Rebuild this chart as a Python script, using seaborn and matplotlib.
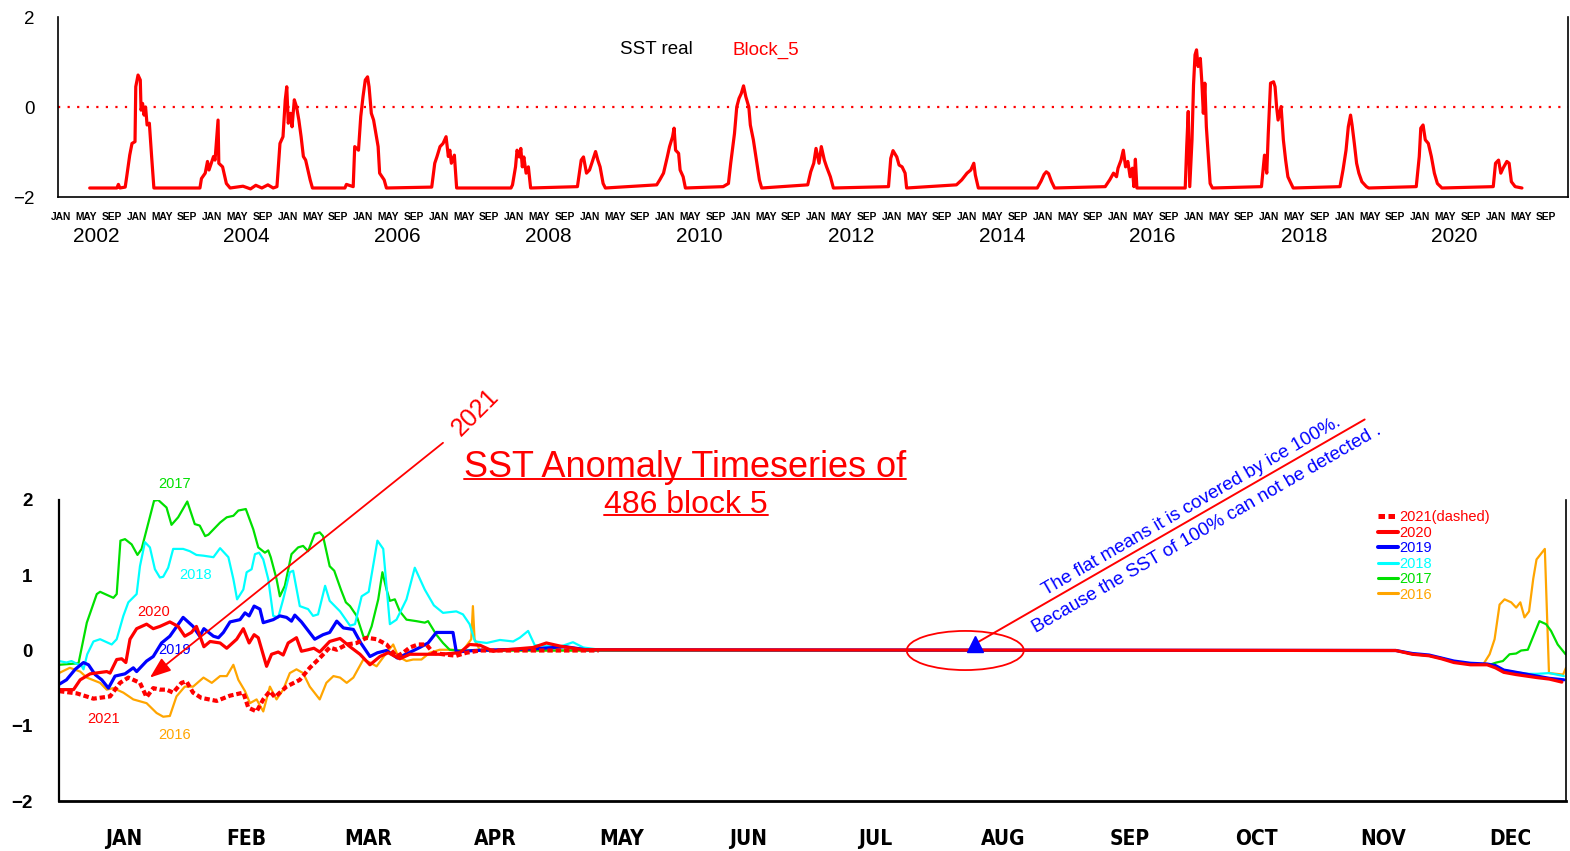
import numpy as np
import matplotlib
matplotlib.use("Agg")
import matplotlib.pyplot as plt
import seaborn as sns
from matplotlib import font_manager
from matplotlib.patches import Ellipse
from matplotlib.lines import Line2D
from matplotlib.transforms import blended_transform_factory, IdentityTransform

# ---------------------------------------------------------------- data
# Block_5 real SST, 2002-2021 (decimal year, degC)
sst_points = [
    (2002.42, -1.80), (2002.78, -1.80), (2002.80, -1.72), (2002.82, -1.80), (2002.89, -1.78),
    (2002.91, -1.55), (2002.95, -1.07), (2002.98, -0.81), (2003.02, -0.77), (2003.03, 0.45),
    (2003.06, 0.71), (2003.09, 0.60), (2003.10, -0.07), (2003.12, 0.08), (2003.14, -0.18),
    (2003.16, 0.00), (2003.18, -0.40), (2003.21, -0.36), (2003.24, -1.10), (2003.27, -1.80),
    (2003.88, -1.80), (2003.90, -1.59), (2003.95, -1.47), (2003.98, -1.21), (2004.00, -1.40),
    (2004.06, -1.10), (2004.08, -1.18), (2004.12, -0.29), (2004.13, -1.25), (2004.18, -1.33),
    (2004.23, -1.70), (2004.28, -1.80), (2004.45, -1.76), (2004.55, -1.82), (2004.62, -1.74),
    (2004.70, -1.80), (2004.78, -1.73), (2004.85, -1.80),
    (2004.90, -1.77), (2004.94, -0.81), (2004.98, -0.66), (2005.01, 0.16), (2005.03, 0.45),
    (2005.05, -0.36), (2005.08, -0.14), (2005.10, -0.44), (2005.13, 0.16), (2005.16, 0.00),
    (2005.19, -0.29), (2005.22, -0.66), (2005.25, -1.10), (2005.28, -1.18), (2005.34, -1.62),
    (2005.37, -1.80),
    (2005.80, -1.80), (2005.82, -1.72), (2005.91, -1.77), (2005.93, -0.88), (2005.98, -0.96),
    (2006.01, -0.21), (2006.04, 0.23), (2006.07, 0.60), (2006.10, 0.67), (2006.12, 0.45),
    (2006.15, -0.14), (2006.18, -0.29), (2006.21, -0.59), (2006.24, -0.88), (2006.26, -1.47),
    (2006.32, -1.62), (2006.35, -1.80),
    (2006.95, -1.78), (2006.99, -1.25), (2007.02, -1.10), (2007.06, -0.88), (2007.10, -0.81),
    (2007.14, -0.66), (2007.17, -1.10), (2007.19, -0.96), (2007.21, -1.25), (2007.25, -1.07),
    (2007.28, -1.80),
    (2008.00, -1.80), (2008.02, -1.73), (2008.06, -1.33), (2008.08, -0.96), (2008.11, -1.11),
    (2008.13, -0.92), (2008.15, -1.33), (2008.17, -1.11), (2008.20, -1.47), (2008.23, -1.33),
    (2008.26, -1.80),
    (2008.88, -1.77), (2008.93, -1.18), (2008.96, -1.11), (2009.00, -1.47), (2009.04, -1.40),
    (2009.07, -1.25), (2009.12, -0.99), (2009.15, -1.18), (2009.18, -1.33), (2009.22, -1.70),
    (2009.25, -1.80),
    (2009.93, -1.73), (2009.97, -1.62), (2010.02, -1.47), (2010.07, -1.11), (2010.10, -0.88),
    (2010.14, -0.66), (2010.16, -0.47), (2010.18, -0.96), (2010.22, -1.03), (2010.24, -1.40),
    (2010.28, -1.55), (2010.31, -1.80),
    (2010.81, -1.77), (2010.88, -1.70), (2010.91, -1.25), (2010.96, -0.59), (2010.99, 0.00),
    (2011.02, 0.19), (2011.05, 0.30), (2011.08, 0.47), (2011.11, 0.23), (2011.15, 0.00),
    (2011.17, -0.40), (2011.21, -0.73), (2011.25, -1.18), (2011.29, -1.62), (2011.32, -1.80),
    (2011.93, -1.73), (2011.97, -1.44), (2012.01, -1.25), (2012.04, -0.92), (2012.08, -1.25),
    (2012.11, -0.88), (2012.15, -1.18), (2012.18, -1.33), (2012.23, -1.55), (2012.27, -1.80),
    (2013.00, -1.77), (2013.03, -1.14), (2013.06, -0.97), (2013.11, -1.11), (2013.14, -1.29),
    (2013.18, -1.33), (2013.22, -1.47), (2013.24, -1.80),
    (2013.90, -1.73), (2013.97, -1.62), (2014.04, -1.47), (2014.09, -1.40), (2014.13, -1.25),
    (2014.15, -1.51), (2014.19, -1.80),
    (2014.97, -1.80), (2015.02, -1.65), (2015.06, -1.50), (2015.09, -1.44), (2015.12, -1.48),
    (2015.16, -1.66), (2015.20, -1.80),
    (2015.87, -1.77), (2015.93, -1.62), (2015.98, -1.47), (2016.02, -1.55), (2016.04, -1.36),
    (2016.08, -1.18), (2016.11, -0.96), (2016.14, -1.33), (2016.17, -1.21), (2016.20, -1.55),
    (2016.23, -1.36), (2016.25, -1.77), (2016.27, -1.16), (2016.29, -1.80),
    (2016.93, -1.80), (2016.95, -0.88), (2016.97, -0.10), (2016.99, -1.77), (2017.02, -0.73),
    (2017.04, 0.49), (2017.06, 1.16), (2017.08, 1.27), (2017.10, 0.90), (2017.13, 1.08),
    (2017.15, 0.56), (2017.17, -0.14), (2017.19, 0.53), (2017.21, -0.44), (2017.24, -1.18),
    (2017.26, -1.70), (2017.29, -1.80),
    (2017.94, -1.77), (2017.98, -1.07), (2018.01, -1.47), (2018.03, -0.59), (2018.06, 0.53),
    (2018.10, 0.56), (2018.12, 0.45), (2018.14, 0.01), (2018.16, -0.29), (2018.20, 0.01),
    (2018.23, -0.73), (2018.26, -1.18), (2018.29, -1.55), (2018.32, -1.66), (2018.36, -1.80),
    (2018.98, -1.77), (2019.02, -1.40), (2019.06, -0.96), (2019.09, -0.44), (2019.12, -0.18),
    (2019.14, -0.40), (2019.17, -0.81), (2019.20, -1.25), (2019.23, -1.47), (2019.27, -1.66),
    (2019.33, -1.77), (2019.36, -1.80),
    (2019.99, -1.77), (2020.03, -1.10), (2020.05, -0.47), (2020.08, -0.40), (2020.11, -0.73),
    (2020.15, -0.81), (2020.19, -1.10), (2020.23, -1.47), (2020.27, -1.70), (2020.33, -1.80),
    (2021.01, -1.77), (2021.04, -1.25), (2021.08, -1.18), (2021.11, -1.47), (2021.14, -1.36),
    (2021.19, -1.21), (2021.22, -1.25), (2021.25, -1.66), (2021.30, -1.77), (2021.39, -1.80),
]

# SST anomaly of block 5 by day of year for each year
anom_2016 = [
    (0, -0.30), (2.6, -0.23), (5.1, -0.28), (6.7, -0.36), (9.9, -0.43), (11.5, -0.52),
    (13.1, -0.50), (15.5, -0.56), (17.9, -0.65), (21.1, -0.70), (23.5, -0.83), (25.1, -0.88),
    (26.7, -0.87), (28.3, -0.61), (30.3, -0.48), (32.3, -0.48), (34.8, -0.36), (36.8, -0.43),
    (38.8, -0.34), (40.4, -0.34), (42.0, -0.19), (43.2, -0.39), (44.8, -0.54), (46.0, -0.70),
    (47.6, -0.65), (49.2, -0.81), (50.8, -0.48), (52.4, -0.65), (54.0, -0.52), (55.6, -0.30),
    (57.2, -0.25), (58.8, -0.30), (60.4, -0.48), (62.8, -0.65), (64.4, -0.43), (66.1, -0.34),
    (67.7, -0.36), (69.3, -0.43), (70.9, -0.36), (73.3, -0.12), (74.9, -0.16), (76.5, -0.21),
    (78.9, -0.03), (80.5, 0.08), (81.7, -0.08), (83.7, -0.14), (85.3, -0.12), (87.3, -0.12),
    (89.3, -0.03), (91.7, 0.01), (94.9, 0.01), (97.3, 0.00), (99.3, 0.15), (99.7, 0.59),
    (100.1, 0.15), (101.4, 0.00), (322, 0.00), (326, -0.05), (330, -0.07), (333, -0.11),
    (336, -0.15), (340, -0.18), (343, -0.19), (344.6, -0.05), (345.8, 0.15), (347, 0.61),
    (348.2, 0.68), (349.8, 0.64), (351, 0.57), (352, 0.64), (353, 0.44), (354.1, 0.52),
    (355.1, 0.95), (355.9, 1.21), (357.9, 1.35), (358.9, -0.30), (362.3, -0.32), (363, -0.23),
]
anom_2017 = [
    (0, -0.19), (4.7, -0.17), (6.7, 0.37), (9.1, 0.75), (9.9, 0.78), (13.1, 0.70), (13.9, 0.75),
    (14.8, 1.46), (15.9, 1.48), (17.5, 1.41), (18.9, 1.27), (19.9, 1.35), (22.9, 1.99),
    (23.9, 2.00), (25.9, 1.90), (27.1, 1.67), (28.7, 1.77), (30.9, 1.98), (32.7, 1.68),
    (33.9, 1.66), (35.2, 1.52), (36.0, 1.54), (38.8, 1.70), (40.4, 1.77), (42.0, 1.79),
    (43.2, 1.86), (45.0, 1.88), (46.8, 1.61), (48.0, 1.37), (49.6, 1.30), (50.4, 1.33),
    (51.0, 1.24), (52.4, 0.95), (53.2, 0.72), (54.4, 0.86), (56.0, 1.28), (57.6, 1.37),
    (58.8, 1.39), (60.0, 1.32), (61.6, 1.55), (62.8, 1.57), (63.6, 1.52), (65.2, 1.12),
    (66.3, 1.06), (67.9, 0.81), (69.1, 0.64), (70.1, 0.59), (71.7, 0.46), (73.3, 0.19),
    (74.1, 0.15), (75.3, 0.32), (76.9, 0.68), (77.9, 1.04), (78.9, 0.81), (79.7, 0.66),
    (80.9, 0.68), (82.1, 0.52), (83.7, 0.41), (86.1, 0.39), (88.1, 0.37), (88.9, 0.39),
    (90.9, 0.21), (92.5, 0.10), (94.1, 0.01), (95.7, 0.00), (322, 0.00), (326, -0.05),
    (330, -0.07), (333, -0.10), (336, -0.15), (340, -0.18), (344.6, -0.19), (346.2, -0.16),
    (347.8, -0.14), (349.4, -0.05), (351, -0.04), (352.2, 0.00), (353.8, 0.01), (356.6, 0.39),
    (358.2, 0.35), (359.4, 0.26), (361, 0.08), (362.9, -0.05),
]
anom_2018 = [
    (0, -0.14), (1.8, -0.16), (3.0, -0.14), (5.5, -0.21), (5.9, -0.25), (6.8, -0.05),
    (8.3, 0.12), (9.9, 0.15), (11.1, 0.12), (12.7, 0.08), (13.9, 0.15), (15.5, 0.46),
    (16.7, 0.64), (18.7, 0.75), (19.5, 1.12), (20.7, 1.44), (21.9, 1.37), (23.1, 1.08),
    (24.3, 0.97), (25.1, 0.98), (26.3, 1.10), (27.5, 1.35), (29.9, 1.35), (31.5, 1.32),
    (33.1, 1.27), (34.8, 1.26), (37.2, 1.24), (38.8, 1.36), (40.8, 1.24), (42.0, 0.95),
    (42.9, 0.68), (44.4, 0.81), (45.2, 1.04), (46.4, 1.08), (47.2, 1.28), (48.2, 1.30),
    (49.2, 1.21), (50.4, 0.95), (51.6, 0.46), (52.8, 0.44), (54.0, 0.68), (55.6, 1.04),
    (56.4, 1.06), (58.0, 0.59), (60.0, 0.55), (61.2, 0.46), (62.4, 0.48), (64.1, 0.86),
    (65.2, 0.66), (67.7, 0.52), (70.1, 0.33), (71.3, 0.35), (72.9, 0.72), (74.6, 0.78),
    (76.7, 1.46), (78.1, 1.35), (79.7, 0.35), (81.3, 0.41), (83.7, 0.68), (85.7, 1.10),
    (88.1, 0.81), (90.3, 0.60), (92.5, 0.50), (95.7, 0.52), (97.3, 0.48), (98.9, 0.35),
    (100.2, 0.12), (103.0, 0.10), (106.2, 0.14), (109.4, 0.12), (111.0, 0.17), (113.0, 0.26),
    (114.6, 0.07), (120.6, 0.05), (123.8, 0.11), (126.3, 0.04), (130.3, 0.01), (322, 0.00),
    (326, -0.04), (330, -0.07), (333, -0.10), (336, -0.15), (340, -0.18), (344, -0.19),
    (346, -0.21), (348, -0.26), (351, -0.29), (354, -0.31), (356, -0.31), (359, -0.30),
    (362.5, -0.34),
]
anom_2019 = [
    (0, -0.45), (1.8, -0.39), (3.9, -0.25), (5.9, -0.16), (7.1, -0.19), (8.7, -0.32),
    (10.3, -0.39), (11.9, -0.50), (13.5, -0.34), (15.9, -0.31), (17.9, -0.23), (18.7, -0.28),
    (21.1, -0.14), (22.7, -0.08), (24.7, 0.10), (26.7, 0.19), (29.9, 0.44), (32.3, 0.32),
    (33.9, 0.19), (34.9, 0.29), (37.2, 0.19), (38.4, 0.17), (39.6, 0.24), (41.2, 0.38),
    (43.6, 0.41), (44.8, 0.50), (45.8, 0.46), (47.0, 0.59), (48.4, 0.55), (49.2, 0.37),
    (51.6, 0.41), (53.2, 0.46), (54.8, 0.44), (56.0, 0.39), (56.8, 0.47), (58.4, 0.38),
    (61.6, 0.15), (63.6, 0.21), (65.2, 0.24), (66.9, 0.39), (68.5, 0.30), (70.9, 0.28),
    (72.7, 0.10), (74.9, -0.08), (76.7, -0.03), (78.9, 0.00), (81.5, -0.10), (84.3, -0.03),
    (86.9, 0.04), (88.9, 0.10), (90.9, 0.24), (94.9, 0.24), (95.7, -0.02), (100, 0.00),
    (106, 0.01), (114, 0.02), (122, 0.05), (127, 0.01), (322, 0.00), (326, -0.04),
    (330, -0.06), (333, -0.10), (336, -0.14), (340, -0.17), (344, -0.18), (346, -0.20),
    (348, -0.26), (351, -0.29), (356, -0.34), (359, -0.37), (362.5, -0.39),
]
anom_2020 = [
    (0, -0.52), (3.5, -0.52), (5.1, -0.39), (7.5, -0.31), (11.5, -0.28), (12.3, -0.30),
    (13.9, -0.12), (15.1, -0.11), (16.1, -0.16), (17.1, 0.15), (18.7, 0.29), (21.1, 0.35),
    (22.7, 0.29), (24.3, 0.32), (26.7, 0.38), (28.7, 0.32), (30.3, 0.19), (31.9, 0.24),
    (33.1, 0.32), (34.9, 0.05), (36.4, 0.12), (38.8, 0.10), (40.4, 0.03), (42.8, 0.15),
    (44.4, 0.29), (45.8, 0.10), (47.0, 0.21), (48.0, 0.17), (50.0, -0.21), (51.2, -0.05),
    (52.8, -0.02), (54.0, -0.06), (55.2, 0.10), (57.2, 0.17), (58.4, -0.01), (60.0, 0.01),
    (61.4, 0.03), (62.8, -0.02), (65.2, 0.12), (67.7, 0.16), (70.1, 0.05), (72.5, -0.05),
    (74.9, -0.19), (77.3, -0.08), (79.3, -0.03), (82.1, -0.11), (84.5, -0.05), (91.7, -0.05),
    (96.5, -0.03), (98.9, 0.08), (101.4, 0.07), (104.6, -0.01), (107.8, 0.01), (114.2, 0.04),
    (117.4, 0.10), (120.6, 0.06), (126.2, 0.01), (322, 0.00), (326, -0.05), (330, -0.07),
    (333, -0.11), (336, -0.16), (340, -0.19), (344, -0.19), (346, -0.23), (348, -0.29),
    (351, -0.32), (356, -0.36), (359, -0.38), (362, -0.42),
]
anom_2021 = [
    (0, -0.54), (4.3, -0.57), (8.3, -0.64), (12.3, -0.61), (14.7, -0.43), (16.7, -0.36),
    (19.5, -0.43), (21.1, -0.62), (22.7, -0.50), (24.3, -0.52), (25.9, -0.52), (27.5, -0.56),
    (29.5, -0.43), (30.7, -0.41), (32.3, -0.56), (34.3, -0.63), (38.0, -0.67), (41.2, -0.60),
    (44.4, -0.56), (45.6, -0.76), (47.6, -0.81), (49.2, -0.65), (50.8, -0.54), (52.0, -0.62),
    (54.8, -0.48), (58.0, -0.39), (60.4, -0.23), (62.8, -0.10), (65.2, 0.04), (66.9, 0.01),
    (69.3, 0.08), (71.7, 0.10), (74.1, 0.17), (76.5, 0.15), (78.9, 0.08), (81.3, -0.08),
    (82.9, -0.03), (84.5, 0.04), (86.5, 0.08), (88.5, 0.08), (90.1, -0.03), (92.5, -0.05),
    (95.7, -0.07), (98.1, -0.03), (101.4, 0.00), (130, 0.00),
]

month_names = ["JAN", "FEB", "MAR", "APR", "MAY", "JUN",
               "JUL", "AUG", "SEP", "OCT", "NOV", "DEC"]
month_start = [0, 31, 59, 90, 120, 151, 181, 212, 243, 273, 304, 334, 365]

series_years = ["2016", "2017", "2018", "2019", "2020", "2021"]
series_colors = {"2016": "#ffa500", "2017": "#00e000", "2018": "#00ffff",
                 "2019": "#0000ff", "2020": "#ff0000", "2021": "#ff0000"}
series_widths = {"2016": 1.6, "2017": 1.6, "2018": 1.6,
                 "2019": 2.3, "2020": 2.3, "2021": 3.0}
series_data = {"2016": anom_2016, "2017": anom_2017, "2018": anom_2018,
               "2019": anom_2019, "2020": anom_2020, "2021": anom_2021}
# in-plot year tags (day of year, anomaly)
tag_pos = {"2017": (27.9, 2.21), "2018": (33.0, 1.00), "2020": (22.9, 0.51),
           "2019": (27.9, 0.00), "2021": (10.8, -0.91), "2016": (27.9, -1.12)}

# ---------------------------------------------------------------- style
sns.set_style("white")
plt.rcParams["font.family"] = ["Liberation Sans", "DejaVu Sans"]
plt.rcParams["axes.unicode_minus"] = True
for key in ("text.color", "xtick.color", "ytick.color", "axes.labelcolor", "axes.edgecolor"):
    plt.rcParams[key] = "black"

available = {f.name for f in font_manager.fontManager.ttflist}
if "Liberation Sans Narrow" in available:
    month_font = dict(family="Liberation Sans Narrow", weight="bold")
else:
    month_font = dict(family="DejaVu Sans", weight="bold", stretch="condensed")

W, H = 1570, 851
fig = plt.figure(figsize=(W / 100, H / 100), dpi=100)
fig.patch.set_facecolor("white")

# ---------------------------------------------------------------- top panel
ax1 = fig.add_axes([58 / W, 1 - 197 / H, 1510 / W, 180 / H])
sst = np.array(sst_points)
sns.lineplot(x=sst[:, 0], y=sst[:, 1], ax=ax1, color="red", lw=2.3,
             estimator=None, sort=False, legend=False)
ax1.axhline(0, color="red", lw=1.6, ls=(0, (1, 3.3)))
ax1.set_xlim(2002, 2022)
ax1.set_ylim(-2, 2)
ax1.spines["top"].set_visible(False)
for s in ("left", "bottom", "right"):
    ax1.spines[s].set_linewidth(1.2)
    ax1.spines[s].set_color("black")

years = np.arange(2002, 2022)
ax1.set_xticks(years)
ax1.set_xticks((years[:, None] + np.array([4, 8]) / 12).ravel(), minor=True)
ax1.tick_params(axis="x", which="major", length=4.5, width=1, labelbottom=False)
ax1.tick_params(axis="x", which="minor", length=2.5, width=0.8)
sec = ax1.secondary_xaxis("bottom")
lab_pos = (years[:, None] + (np.array([0, 4, 8]) + 0.5) / 12).ravel()
sec.set_xticks(lab_pos, ["JAN", "MAY", "SEP"] * len(years))
sec.tick_params(length=0, pad=11, labelsize=7.4, colors="black")
for t in sec.get_xticklabels():
    t.set_fontweight("bold")
sec.spines["bottom"].set_visible(False)

trans1 = blended_transform_factory(ax1.transData, ax1.transAxes)
for y in years[::2]:
    ax1.text(y + 0.5, -0.217, str(y), transform=trans1, ha="center", va="center",
             fontsize=15, color="black")

ax1.set_yticks([-2, 0, 2])
ax1.set_yticks([-1, 1], minor=True)
ax1.tick_params(axis="y", which="major", length=3, width=1, pad=14, labelsize=13.5)
ax1.tick_params(axis="y", which="minor", length=2, width=0.8)
ax1.set_xlabel("")
ax1.set_ylabel("")

fig.text(656 / W, 1 - 50 / H, "SST real", color="black", fontsize=13.5,
         ha="center", va="center")
fig.text(766 / W, 1 - 50 / H, "Block_5", color="red", fontsize=13.5,
         ha="center", va="center")

# ---------------------------------------------------------------- bottom panel
ax2 = fig.add_axes([59 / W, 1 - 801 / H, 1507 / W, 301 / H])
handles = {}
for yr in series_years:
    arr = np.array(series_data[yr])
    kw = dict(ls=(0, (1.3, 0.7))) if yr == "2021" else {}
    sns.lineplot(x=arr[:, 0], y=arr[:, 1], ax=ax2, color=series_colors[yr],
                 lw=series_widths[yr], estimator=None, sort=False, legend=False, **kw)
    handles[yr] = Line2D([], [], color=series_colors[yr],
                         lw=series_widths[yr] + 0.6, **kw)

ax2.set_xlim(0, 363)
ax2.set_ylim(-2, 2)
ax2.spines["top"].set_visible(False)
ax2.spines["left"].set_linewidth(1.6)
ax2.spines["bottom"].set_linewidth(2.0)
ax2.spines["right"].set_linewidth(1.2)
for s in ("left", "bottom", "right"):
    ax2.spines[s].set_color("black")

ms = np.array(month_start)
ax2.set_xticks((ms[:-1] + ms[1:]) / 2, month_names)
ax2.set_xticks(ms[:-1], minor=True)
ax2.tick_params(axis="x", which="major", length=0, pad=20, labelsize=15)
ax2.tick_params(axis="x", which="minor", length=3.5, width=1)
for t in ax2.get_xticklabels():
    t.set_fontfamily(month_font["family"])
    t.set_fontweight("bold")
    if "stretch" in month_font:
        t.set_fontstretch(month_font["stretch"])

ax2.set_yticks([-2, -1, 0, 1, 2])
ax2.tick_params(axis="y", which="major", length=3, width=1.2, pad=16, labelsize=13.5)
for t in ax2.get_yticklabels():
    t.set_fontweight("bold")
ax2.set_xlabel("")
ax2.set_ylabel("")

for yr, (dx, dy) in tag_pos.items():
    ax2.text(dx, dy, yr, color=series_colors[yr], fontsize=10.5,
             ha="center", va="center")

leg_labels = ["2021(dashed)", "2020", "2019", "2018", "2017", "2016"]
leg = ax2.legend([handles[l[:4]] for l in leg_labels], leg_labels,
                 loc="upper left", bbox_to_anchor=(0.8755, 0.966), frameon=False,
                 fontsize=10.5, handlelength=1.35, handletextpad=0.05,
                 labelspacing=0.1, borderpad=0, borderaxespad=0)
for txt, lab in zip(leg.get_texts(), leg_labels):
    txt.set_color(series_colors[lab[:4]])

# arrow pointing at the 2021 curve
ax2.annotate("", xy=(21.9, -0.36), xytext=(92.5, 2.76),
             arrowprops=dict(arrowstyle="-|>,head_length=0.8,head_width=0.3",
                             color="red", lw=1.3, shrinkA=0, shrinkB=0,
                             mutation_scale=16),
             annotation_clip=False)
ax2.text(100.4, 3.17, "2021", rotation=45, color="red", fontsize=18,
         ha="center", va="center", rotation_mode="anchor", clip_on=False)

# flat ice-covered period
ax2.add_patch(Ellipse((218.3, 0.0), width=28.2, height=0.52, fill=False,
                      edgecolor="red", lw=1.3, zorder=4))
ax2.annotate("", xy=(221.3, 0.11), xytext=(314.5, 3.07),
             arrowprops=dict(arrowstyle="-", color="red", lw=1.4,
                             shrinkA=0, shrinkB=0),
             annotation_clip=False)
ax2.plot([220.6], [0.09], marker="^", color="blue", ms=11, zorder=6, clip_on=False)
ax2.text(272.8, 1.92, "The flat means it is covered by ice 100%.", rotation=30,
         color="blue", fontsize=13.5, ha="center", va="center", rotation_mode="anchor")
ax2.text(276.4, 1.61, "Because the SST of 100% can not be detected .", rotation=30,
         color="blue", fontsize=13.5, ha="center", va="center", rotation_mode="anchor")

# underlined title
t1 = fig.text(685 / W, 1 - 476.7 / H, "SST Anomaly Timeseries of", color="red",
              fontsize=26, ha="center", va="baseline")
t2 = fig.text(686 / W, 1 - 512.7 / H, "486 block 5", color="red",
              fontsize=23, ha="center", va="baseline")
fig.canvas.draw()
renderer = fig.canvas.get_renderer()
for t in (t1, t2):
    bb = t.get_window_extent(renderer)
    _, yb = t.get_transform().transform(t.get_position())
    fig.add_artist(Line2D([bb.x0, bb.x1], [yb - 2, yb - 2], transform=IdentityTransform(),
                          color="red", lw=1.4))

fig.savefig("out.png", dpi=100, facecolor="white")
